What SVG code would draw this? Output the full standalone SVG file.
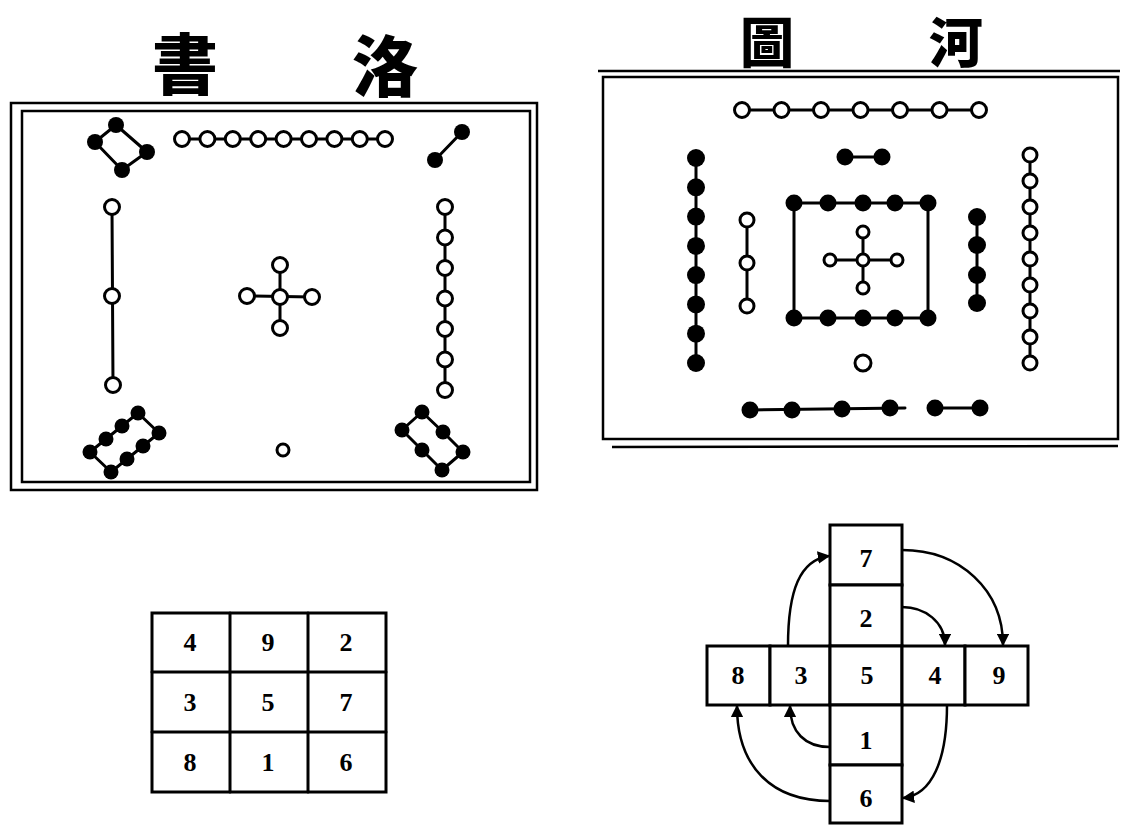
<svg xmlns="http://www.w3.org/2000/svg" width="1124" height="825" viewBox="0 0 1124 825">
<style>
.bg{fill:#fff}
.title{font-family:"Noto Sans CJK TC","Noto Sans CJK SC",sans-serif;font-weight:900;fill:#000;text-anchor:middle}
.frame{fill:none;stroke:#000;stroke-width:2.5}
.ln{fill:none;stroke:#000;stroke-width:3;stroke-linecap:round;stroke-linejoin:round}
.b{fill:#000}
.w{fill:#fff;stroke:#000;stroke-width:3}
.box{fill:#fff;stroke:#000;stroke-width:3}
.num{font-family:"Liberation Serif",serif;font-weight:bold;font-size:26px;fill:#000;text-anchor:middle}
.arc{fill:none;stroke:#000;stroke-width:2.5}
</style>
<defs>
<marker id="ah" viewBox="0 0 10 10" refX="9" refY="5" markerWidth="5" markerHeight="5" orient="auto" markerUnits="strokeWidth">
<path d="M0,0 L10,5 L0,10 Z" fill="#000"/>
</marker>
</defs>
<rect class="bg" width="1124" height="825"/>

<g id="luoshu-title">
<text class="title" x="185" y="89" font-size="66">書</text>
<text class="title" x="385" y="91" font-size="66">洛</text>
</g>
<g id="luoshu-frame">
<rect class="frame" x="11" y="103" width="526" height="387" stroke-width="3"/>
<rect class="frame" x="22" y="111" width="508" height="371" stroke-width="2"/>
</g>
<g id="luoshu-4">
<polygon class="ln" points="116,125 147,152 122,170 95,142"/>
<circle class="b" cx="116" cy="125" r="8"/><circle class="b" cx="147" cy="152" r="8"/>
<circle class="b" cx="122" cy="170" r="8"/><circle class="b" cx="95" cy="142" r="8"/>
</g>
<g id="luoshu-9">
<line class="ln" x1="182" y1="139" x2="385" y2="139"/>
<circle class="w" cx="182" cy="139" r="7.5"/><circle class="w" cx="207.4" cy="139" r="7.5"/>
<circle class="w" cx="232.8" cy="139" r="7.5"/><circle class="w" cx="258.2" cy="139" r="7.5"/>
<circle class="w" cx="283.6" cy="139" r="7.5"/><circle class="w" cx="309" cy="139" r="7.5"/>
<circle class="w" cx="334.4" cy="139" r="7.5"/><circle class="w" cx="359.8" cy="139" r="7.5"/>
<circle class="w" cx="385" cy="139" r="7.5"/>
</g>
<g id="luoshu-2">
<line class="ln" x1="462" y1="132" x2="435" y2="160"/>
<circle class="b" cx="462" cy="132" r="8"/><circle class="b" cx="435" cy="160" r="8"/>
</g>
<g id="luoshu-3">
<line class="ln" x1="112" y1="207" x2="113" y2="385"/>
<circle class="w" cx="112" cy="207" r="7.5"/><circle class="w" cx="112" cy="296" r="7.5"/>
<circle class="w" cx="113" cy="385" r="7.5"/>
</g>
<g id="luoshu-5">
<line class="ln" x1="280" y1="265" x2="280" y2="328"/>
<line class="ln" x1="247" y1="296" x2="312" y2="297"/>
<circle class="w" cx="280" cy="265" r="7.5"/><circle class="w" cx="280" cy="328" r="7.5"/>
<circle class="w" cx="247" cy="296" r="7.5"/><circle class="w" cx="312" cy="297" r="7.5"/>
<circle class="w" cx="280" cy="297" r="7.5"/>
</g>
<g id="luoshu-7">
<line class="ln" x1="445" y1="207" x2="445" y2="390"/>
<circle class="w" cx="445" cy="207" r="7.5"/><circle class="w" cx="445" cy="237.5" r="7.5"/>
<circle class="w" cx="445" cy="268" r="7.5"/><circle class="w" cx="445" cy="298.5" r="7.5"/>
<circle class="w" cx="445" cy="329" r="7.5"/><circle class="w" cx="445" cy="359.5" r="7.5"/>
<circle class="w" cx="445" cy="390" r="7.5"/>
</g>
<g id="luoshu-8">
<polygon class="ln" points="90,452 106,439 122,426 138,413 159,433 143,446 127,459 111,472"/>
<circle class="b" cx="90" cy="452" r="7.5"/><circle class="b" cx="106" cy="439" r="7.5"/>
<circle class="b" cx="122" cy="426" r="7.5"/><circle class="b" cx="138" cy="413" r="7.5"/>
<circle class="b" cx="159" cy="433" r="7.5"/><circle class="b" cx="143" cy="446" r="7.5"/>
<circle class="b" cx="127" cy="459" r="7.5"/><circle class="b" cx="111" cy="472" r="7.5"/>
</g>
<g id="luoshu-1">
<circle class="w" cx="283" cy="450" r="6"/>
</g>
<g id="luoshu-6">
<polygon class="ln" points="402,430 422,450 442,470 463,452 443,432 422,412"/>
<circle class="b" cx="402" cy="430" r="7.5"/><circle class="b" cx="422" cy="450" r="7.5"/>
<circle class="b" cx="442" cy="470" r="7.5"/><circle class="b" cx="463" cy="452" r="7.5"/>
<circle class="b" cx="443" cy="432" r="7.5"/><circle class="b" cx="422" cy="412" r="7.5"/>
</g>

<g id="hetu-title">
<text class="title" x="767" y="63" font-size="54">圖</text>
<text class="title" x="956" y="63" font-size="54">河</text>
</g>
<g id="hetu-frame">
<line class="frame" x1="598" y1="71" x2="1120" y2="71"/>
<rect class="frame" x="603" y="77" width="515" height="362"/>
<line class="frame" x1="612" y1="447" x2="1118" y2="446"/>
</g>
<g id="hetu-7">
<line class="ln" x1="742" y1="110" x2="979" y2="110"/>
<circle class="w" cx="742" cy="110" r="7.5"/><circle class="w" cx="781.5" cy="110" r="7.5"/>
<circle class="w" cx="821" cy="110" r="7.5"/><circle class="w" cx="860.5" cy="110" r="7.5"/>
<circle class="w" cx="900" cy="110" r="7.5"/><circle class="w" cx="939.5" cy="110" r="7.5"/>
<circle class="w" cx="979" cy="110" r="7.5"/>
</g>
<g id="hetu-2">
<line class="ln" x1="845" y1="157" x2="882" y2="157"/>
<circle class="b" cx="845" cy="157" r="8.5"/><circle class="b" cx="882" cy="157" r="8.5"/>
</g>
<g id="hetu-8">
<line class="ln" x1="696" y1="158" x2="696" y2="363"/>
<circle class="b" cx="696" cy="158" r="9"/><circle class="b" cx="696" cy="187.3" r="9"/>
<circle class="b" cx="696" cy="216.6" r="9"/><circle class="b" cx="696" cy="245.9" r="9"/>
<circle class="b" cx="696" cy="275.1" r="9"/><circle class="b" cx="696" cy="304.4" r="9"/>
<circle class="b" cx="696" cy="333.7" r="9"/><circle class="b" cx="696" cy="363" r="9"/>
</g>
<g id="hetu-3">
<line class="ln" x1="747" y1="220" x2="747" y2="306"/>
<circle class="w" cx="747" cy="220" r="7"/><circle class="w" cx="747" cy="263" r="7"/>
<circle class="w" cx="747" cy="306" r="7"/>
</g>
<g id="hetu-10">
<rect class="ln" x="794" y="203" width="134" height="115"/>
<circle class="b" cx="794" cy="203" r="8.5"/><circle class="b" cx="828" cy="203" r="8.5"/>
<circle class="b" cx="863" cy="203" r="8.5"/><circle class="b" cx="895" cy="203" r="8.5"/>
<circle class="b" cx="928" cy="203" r="8.5"/>
<circle class="b" cx="794" cy="318" r="8.5"/><circle class="b" cx="828" cy="318" r="8.5"/>
<circle class="b" cx="863" cy="318" r="8.5"/><circle class="b" cx="895" cy="318" r="8.5"/>
<circle class="b" cx="928" cy="318" r="8.5"/>
</g>
<g id="hetu-5">
<line class="ln" x1="863" y1="232" x2="863" y2="288"/>
<line class="ln" x1="830" y1="260" x2="897" y2="260"/>
<circle class="w" cx="863" cy="232" r="6"/><circle class="w" cx="863" cy="288" r="6"/>
<circle class="w" cx="830" cy="260" r="6"/><circle class="w" cx="897" cy="260" r="6"/>
<circle class="w" cx="863" cy="260" r="6"/>
</g>
<g id="hetu-1">
<circle class="w" cx="863" cy="363" r="8"/>
</g>
<g id="hetu-4">
<line class="ln" x1="977" y1="217" x2="977" y2="303"/>
<circle class="b" cx="977" cy="217" r="9"/><circle class="b" cx="977" cy="245" r="9"/>
<circle class="b" cx="977" cy="275" r="9"/><circle class="b" cx="977" cy="303" r="9"/>
</g>
<g id="hetu-9">
<line class="ln" x1="1030" y1="155" x2="1030" y2="363"/>
<circle class="w" cx="1030" cy="155" r="7"/><circle class="w" cx="1030" cy="181" r="7"/>
<circle class="w" cx="1030" cy="207" r="7"/><circle class="w" cx="1030" cy="233" r="7"/>
<circle class="w" cx="1030" cy="259" r="7"/><circle class="w" cx="1030" cy="285" r="7"/>
<circle class="w" cx="1030" cy="311" r="7"/><circle class="w" cx="1030" cy="337" r="7"/>
<circle class="w" cx="1030" cy="363" r="7"/>
</g>
<g id="hetu-6">
<line class="ln" x1="750" y1="410" x2="905" y2="408"/>
<line class="ln" x1="935" y1="408" x2="980" y2="408"/>
<circle class="b" cx="750" cy="410" r="8.5"/><circle class="b" cx="792" cy="410" r="8.5"/>
<circle class="b" cx="842" cy="409" r="8.5"/><circle class="b" cx="890" cy="408" r="8.5"/>
<circle class="b" cx="935" cy="408" r="8.5"/><circle class="b" cx="980" cy="408" r="8.5"/>
</g>

<g id="magic-square">
<rect class="box" x="152" y="613" width="234" height="179"/>
<line class="ln" x1="230" y1="613" x2="230" y2="792"/>
<line class="ln" x1="308" y1="613" x2="308" y2="792"/>
<line class="ln" x1="152" y1="672" x2="386" y2="672"/>
<line class="ln" x1="152" y1="732" x2="386" y2="732"/>
<text class="num" x="190" y="651">4</text><text class="num" x="268" y="651">9</text><text class="num" x="346" y="651">2</text>
<text class="num" x="190" y="711">3</text><text class="num" x="268" y="711">5</text><text class="num" x="346" y="711">7</text>
<text class="num" x="190" y="771">8</text><text class="num" x="268" y="771">1</text><text class="num" x="346" y="771">6</text>
</g>

<g id="cross-connectors">
<path class="arc" marker-end="url(#ah)" d="M788,646 C788,590 800,560 829,556"/>
<path class="arc" marker-end="url(#ah)" d="M902,550 C960,550 1003,590 1003,645"/>
<path class="arc" marker-end="url(#ah)" d="M902,607 C925,607 945,622 945,645"/>
<path class="arc" marker-end="url(#ah)" d="M947,705 C947,760 932,795 903,798"/>
<path class="arc" marker-end="url(#ah)" d="M830,747 C805,747 790,732 790,706"/>
<path class="arc" marker-end="url(#ah)" d="M830,801 C770,801 737,765 737,706"/>
</g>
<g id="cross-7"><rect class="box" x="830" y="525" width="72" height="60"/><text class="num" x="866" y="567">7</text></g>
<g id="cross-2"><rect class="box" x="830" y="585" width="72" height="61"/><text class="num" x="866" y="627">2</text></g>
<g id="cross-8"><rect class="box" x="707" y="646" width="63" height="59"/><text class="num" x="738" y="684">8</text></g>
<g id="cross-3"><rect class="box" x="770" y="646" width="60" height="59"/><text class="num" x="801" y="684">3</text></g>
<g id="cross-5"><rect class="box" x="830" y="646" width="72" height="59"/><text class="num" x="867" y="684">5</text></g>
<g id="cross-4"><rect class="box" x="902" y="646" width="63" height="59"/><text class="num" x="935" y="684">4</text></g>
<g id="cross-9"><rect class="box" x="965" y="646" width="63" height="59"/><text class="num" x="999" y="684">9</text></g>
<g id="cross-1"><rect class="box" x="830" y="705" width="72" height="60"/><text class="num" x="866" y="749">1</text></g>
<g id="cross-6"><rect class="box" x="830" y="765" width="72" height="58"/><text class="num" x="866" y="807">6</text></g>
</svg>
